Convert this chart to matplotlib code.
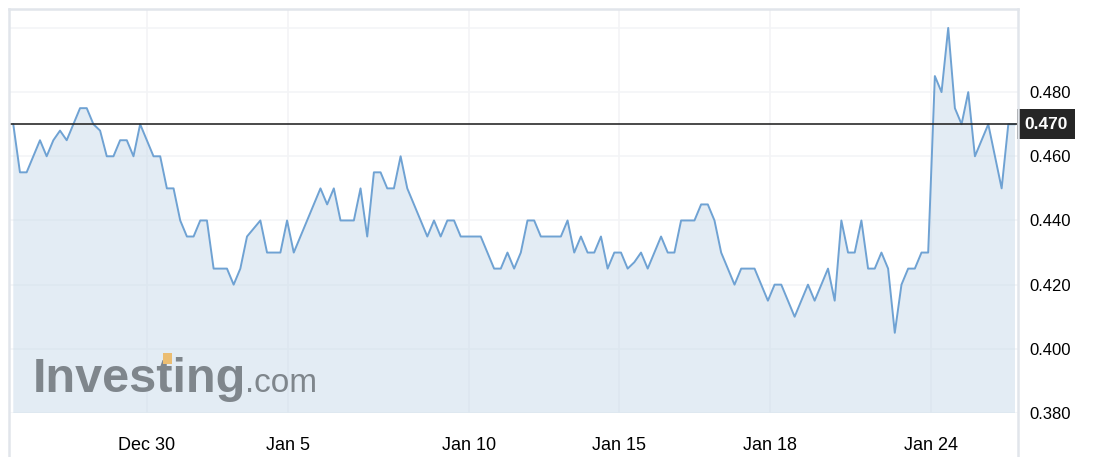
import numpy as np
import matplotlib
matplotlib.use("Agg")
import matplotlib.pyplot as plt
from matplotlib.patches import Rectangle
from matplotlib.lines import Line2D

# price series (151 points)
prices = [
    0.470, 0.455, 0.455, 0.460, 0.465, 0.460, 0.465, 0.468, 0.465, 0.470,
    0.475, 0.475, 0.470, 0.468, 0.460, 0.460, 0.465, 0.465, 0.460, 0.470,
    0.465, 0.460, 0.460, 0.450, 0.450, 0.440, 0.435, 0.435, 0.440, 0.440,
    0.425, 0.425, 0.425, 0.420, 0.425, 0.435, 0.4375, 0.440, 0.430, 0.430,
    0.430, 0.440, 0.430, 0.435, 0.440, 0.445, 0.450, 0.445, 0.450, 0.440,
    0.440, 0.440, 0.450, 0.435, 0.455, 0.455,
    0.450, 0.450, 0.460, 0.450, 0.445, 0.440, 0.435, 0.440, 0.435, 0.440,
    0.440, 0.435, 0.435, 0.435, 0.435, 0.430, 0.425, 0.425, 0.430, 0.425,
    0.430, 0.440, 0.440, 0.435, 0.435, 0.435, 0.435, 0.440, 0.430, 0.435,
    0.430, 0.430, 0.435, 0.425, 0.430, 0.430, 0.425, 0.427, 0.430, 0.425,
    0.430, 0.435, 0.430, 0.430, 0.440, 0.440, 0.440,
    0.445, 0.445, 0.440, 0.430, 0.425, 0.420, 0.425, 0.425, 0.425, 0.420,
    0.415, 0.420, 0.420, 0.415, 0.410, 0.415, 0.420, 0.415, 0.420, 0.425,
    0.415, 0.440, 0.430, 0.430, 0.440, 0.425, 0.425, 0.430, 0.425, 0.405,
    0.420, 0.425, 0.425, 0.430, 0.430, 0.485, 0.480, 0.500, 0.475, 0.470,
    0.480, 0.460, 0.465, 0.470, 0.460, 0.450, 0.470, 0.470,
]
date_labels = ["Dec 30", "Jan 5", "Jan 10", "Jan 15", "Jan 18", "Jan 24"]
date_index = [20.0, 41.2, 68.2, 90.7, 113.3, 137.4]
y_ticks = [0.38, 0.40, 0.42, 0.44, 0.46, 0.48]
last_price = 0.470

plt.rcParams['font.family'] = ['Liberation Sans', 'DejaVu Sans']

W, H = 1098, 457
fig = plt.figure(figsize=(W / 100, H / 100), dpi=100)
ax = fig.add_axes([9 / W, 1 - 413 / H, (1018 - 9) / W, (413 - 9) / H])

x = np.arange(len(prices))
ax.fill_between(x, prices, 0.3, color='#c9dbea', alpha=0.5, lw=0, zorder=2)
ax.plot(x, prices, color='#6fa2d3', lw=1.4, zorder=3)
ax.axhline(last_price, color='#2a2a2a', lw=1.2, zorder=4)

ax.set_xlim(-0.64, 150.45)
ax.set_ylim(0.38, 0.5059)

# grid (very faint)
for yv in np.arange(0.38, 0.501, 0.02):
    ax.axhline(yv, color='#f4f5f7', lw=1.2, zorder=1)
for xv in date_index:
    ax.axvline(xv, color='#f3f4f6', lw=1.2, zorder=1)

ax.set_xticks(date_index)
ax.set_xticklabels(date_labels, fontsize=13)
ax.set_yticks(y_ticks)
ax.set_yticklabels([f"{v:.3f}" for v in y_ticks], fontsize=12)
ax.yaxis.tick_right()
ax.tick_params(axis='x', length=0, pad=17)
ax.tick_params(axis='y', length=0, pad=8)
for s in ax.spines.values():
    s.set_visible(False)

# frame lines around the chart
fc = '#e1e5eb'
fig.add_artist(Line2D([9 / W, 9 / W], [0, 1 - 9 / H], color=fc, lw=1.8))
fig.add_artist(Line2D([1018 / W, 1018 / W], [0, 1 - 9 / H], color=fc, lw=1.8))
fig.add_artist(Line2D([9 / W, 1018 / W], [1 - 9 / H, 1 - 9 / H], color=fc, lw=1.8))

# last price box
ax.annotate(f"{last_price:.3f}", xy=(1.0, last_price), xycoords=('axes fraction', 'data'),
            xytext=(4.5, 0), textcoords='offset points', ha='left', va='center',
            fontsize=12.5, fontweight='bold', color='white', zorder=6,
            bbox=dict(boxstyle='square,pad=0.42', fc='#262626', ec='none'))

# watermark
wm_color = '#7f868c'
fig.text(33 / W, 1 - 392 / H, "Investing", fontsize=35, fontweight='bold',
         color=wm_color, va='baseline', ha='left')
fig.text(245 / W, 1 - 392 / H, ".com", fontsize=24, color=wm_color,
         va='baseline', ha='left')

# orange accent sits on top of the "t": measure where it falls
renderer = fig.canvas.get_renderer()
probe = fig.text(33 / W, 1 - 392 / H, "Inves", fontsize=35, fontweight='bold',
                 va='baseline', ha='left', alpha=0)
bb = probe.get_window_extent(renderer)
probe.remove()
tx = bb.x1 + 6
fig.add_artist(Rectangle((tx / W, 1 - 364 / H), 9 / W, 11 / H,
                         transform=fig.transFigure, fc='#ebbd72', ec='none', zorder=10))

fig.savefig("out.png", dpi=100)
